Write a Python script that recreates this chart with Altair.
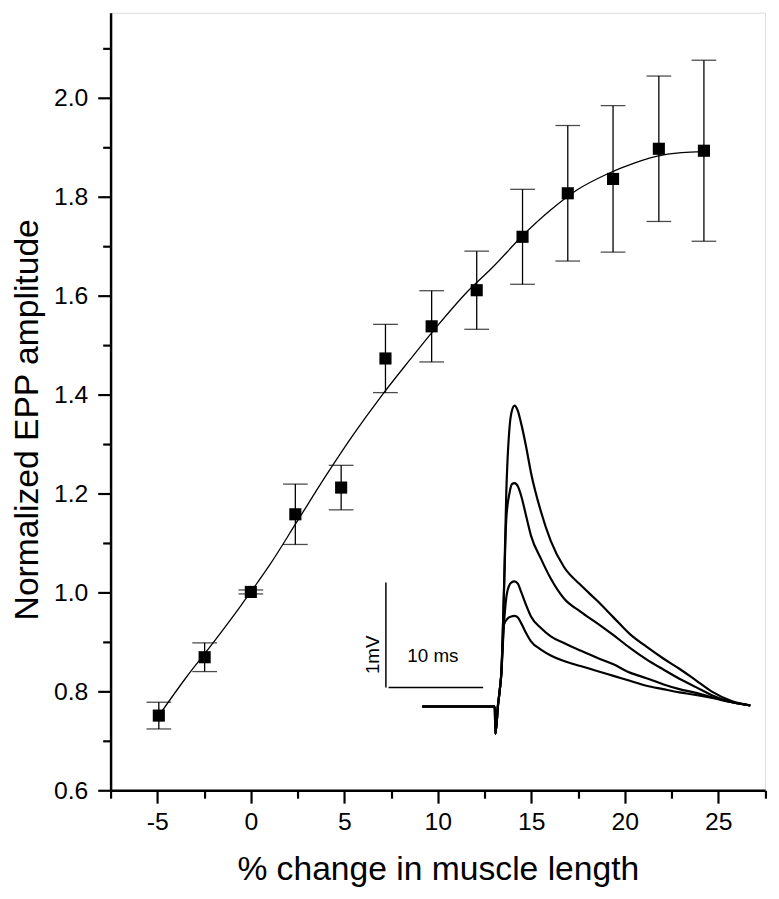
import altair as alt
import pandas as pd

# ---- main data: % change in muscle length vs normalized EPP amplitude ----
x_pct = [-4.92, -2.47, 0.0, 2.38, 4.83, 7.2, 9.67, 12.08, 14.53, 16.95, 19.37, 21.82, 24.23]
amp = [0.751, 0.869, 1.001, 1.158, 1.212, 1.473, 1.538, 1.611, 1.719, 1.807, 1.836, 1.897, 1.893]
err = [0.027, 0.029, 0.004, 0.061, 0.045, 0.069, 0.072, 0.079, 0.096, 0.137, 0.148, 0.147, 0.183]

# fitted curve
fit_x = [-4.9, -3.5, -2.0, -0.5, 1.0, 2.5, 4.0, 5.5, 7.0, 8.5, 10.0, 11.5, 13.0, 14.5,
         16.0, 17.5, 19.0, 20.5, 22.0, 23.5, 24.3]
fit_y = [0.752, 0.826, 0.899, 0.975, 1.055, 1.145, 1.235, 1.32, 1.398, 1.47, 1.54, 1.605,
         1.66, 1.72, 1.772, 1.815, 1.845, 1.868, 1.884, 1.89, 1.891]

# ---- inset: EPP traces (time in ms, voltage in mV) ----
rise_t = [-7.74, -0.07, 0.0, 0.28, 0.45, 0.62]
rise_v = [0.0, 0.0, -0.26, 0.02, 0.15, 0.31]

t1 = [0.90, 1.15, 1.50, 1.74, 2.02, 2.37, 2.72, 3.24, 3.76, 4.81, 5.85, 7.25, 8.99, 10.74,
      12.48, 14.22, 15.97, 17.71, 19.45, 21.20, 22.94, 25.03, 26.95]
v1 = [1.09, 2.04, 2.67, 2.82, 2.87, 2.82, 2.70, 2.48, 2.23, 1.86, 1.58, 1.33, 1.16, 1.01,
      0.85, 0.69, 0.57, 0.46, 0.36, 0.25, 0.14, 0.05, 0.01]

t2 = [0.90, 1.15, 1.50, 1.74, 2.02, 2.37, 2.72, 3.24, 3.76, 4.81, 5.85, 7.25, 8.99, 10.74,
      12.48, 14.22, 15.97, 17.71, 19.45, 21.20, 22.94, 25.03, 26.95]
v2 = [1.09, 1.79, 2.04, 2.12, 2.13, 2.10, 2.01, 1.82, 1.63, 1.41, 1.22, 1.03, 0.905, 0.795,
      0.68, 0.56, 0.45, 0.355, 0.265, 0.185, 0.105, 0.04, 0.01]

t3 = [0.90, 1.25, 1.67, 2.02, 2.37, 2.72, 3.24, 3.76, 4.81, 5.85, 7.25, 8.99, 10.74, 12.48,
      14.22, 15.97, 17.71, 19.45, 21.20, 22.94, 25.03, 26.95]
v3 = [0.78, 1.094, 1.182, 1.194, 1.172, 1.094, 0.968, 0.858, 0.748, 0.669, 0.606, 0.534,
      0.465, 0.402, 0.323, 0.27, 0.213, 0.166, 0.13, 0.087, 0.04, 0.01]

t4 = [0.90, 1.32, 1.67, 2.02, 2.37, 2.72, 3.24, 3.76, 4.81, 5.85, 7.25, 8.99, 10.74, 12.48,
      14.22, 15.97, 17.71, 19.45, 21.20, 22.94, 25.03, 26.95]
v4 = [0.78, 0.842, 0.858, 0.864, 0.848, 0.795, 0.701, 0.622, 0.543, 0.487, 0.433, 0.386,
      0.339, 0.292, 0.245, 0.198, 0.166, 0.135, 0.11, 0.081, 0.04, 0.01]

# scale bars (ms / mV)
bar_v_t = -11.58
bar_v_lo, bar_v_hi = 0.182, 1.182
bar_h_t0, bar_h_t1 = -11.3, -1.3
bar_h_v = 0.182

FONT = "Liberation Sans"
W, H = 661.6, 786

# ---------------- frames ----------------
pts = pd.DataFrame({"x": x_pct, "y": amp, "lo": [a - e for a, e in zip(amp, err)],
                    "hi": [a + e for a, e in zip(amp, err)]})
caps = pd.DataFrame({"x": x_pct * 2,
                     "y": [a - e for a, e in zip(amp, err)] + [a + e for a, e in zip(amp, err)]})
fit = pd.DataFrame({"x": fit_x, "y": fit_y})

rows = []
for name, ts, vs in [("a", t1, v1), ("b", t2, v2), ("c", t3, v3), ("d", t4, v4)]:
    full_t = rise_t + ts
    full_v = rise_v + vs
    for i, (t, v) in enumerate(zip(full_t, full_v)):
        rows.append({"trace": name, "i": i, "t": t, "mV": v})
traces = pd.DataFrame(rows)

xs = alt.Scale(domain=[-7.5, 27.5], nice=False, zero=False)
ys = alt.Scale(domain=[0.6, 2.172], nice=False, zero=False)

x_axis = alt.Axis(
    values=[-7.5 + 2.5 * k for k in range(15)],
    labelExpr="abs(datum.value % 5) < 0.01 ? ('' + datum.value) : ''",
    tickSize={"condition": {"test": "abs(datum.value % 5) < 0.01", "value": 13}, "value": 8},
    labelOverlap=False, labelFlush=False, grid=False,
    domainColor="black", domainWidth=2.5, tickColor="black", tickWidth=2.2,
    labelFont=FONT, labelFontSize=25, labelColor="black", labelPadding=7,
    title="% change in muscle length", titleFont=FONT, titleFontSize=34,
    titleFontWeight="normal", titleColor="black", titleBaseline="alphabetic", titleY=90,
)
y_axis = alt.Axis(
    values=[round(0.6 + 0.1 * k, 1) for k in range(16)],
    labelExpr="round(datum.value * 10) % 2 == 0 ? format(datum.value, '.1f') : ''",
    tickSize={"condition": {"test": "round(datum.value * 10) % 2 == 0", "value": 13}, "value": 8},
    labelOverlap=False, labelFlush=False, grid=False,
    domainColor="black", domainWidth=2.5, tickColor="black", tickWidth=2.2,
    labelFont=FONT, labelFontSize=25, labelColor="black", labelPadding=10,
    title="Normalized EPP amplitude", titleFont=FONT, titleFontSize=34,
    titleFontWeight="normal", titleColor="black", titleBaseline="alphabetic",
    titleX=-74, titleY=411, titleAngle=270,
)


def X(f="x"):
    return alt.X(f"{f}:Q", scale=xs, axis=x_axis)


def Y(f="y"):
    return alt.Y(f"{f}:Q", scale=ys, axis=y_axis)


fit_line = alt.Chart(fit).mark_line(color="black", strokeWidth=1.3, interpolate="monotone").encode(
    x=X(), y=Y())
bars = alt.Chart(pts).mark_rule(color="black", strokeWidth=1.3).encode(
    x=X(), y=Y("lo"), y2="hi:Q")
cap_marks = alt.Chart(caps).mark_tick(color="black", orient="horizontal", size=25,
                                     thickness=1.3).encode(x=X(), y=Y())
squares = alt.Chart(pts).mark_square(color="black", opacity=1, size=150).encode(x=X(), y=Y())

main = alt.layer(fit_line, bars, cap_marks, squares)

# inset scales placing the traces inside the plot area
ts_ = alt.Scale(domain=[-40.69, 28.51], nice=False, zero=False)
vs_ = alt.Scale(domain=[-0.799, 6.616], nice=False, zero=False)

trace_lines = alt.Chart(traces).mark_line(color="black", strokeWidth=2.2,
                                          interpolate="monotone").encode(
    x=alt.X("t:Q", scale=ts_, axis=None), y=alt.Y("mV:Q", scale=vs_, axis=None),
    detail="trace:N", order="i:Q")

sbar = pd.DataFrame({"t": [bar_v_t, bar_h_t0], "t2": [bar_v_t, bar_h_t1],
                     "v": [bar_v_lo, bar_h_v], "v2": [bar_v_hi, bar_h_v]})
scale_bars = alt.Chart(sbar).mark_rule(color="black", strokeWidth=1.5).encode(
    x=alt.X("t:Q", scale=ts_, axis=None), x2="t2:Q",
    y=alt.Y("v:Q", scale=vs_, axis=None), y2="v2:Q")

lbl_ms = alt.Chart(pd.DataFrame({"t": [-9.31], "v": [0.427], "s": ["10 ms"]})).mark_text(
    font=FONT, fontSize=19, align="left", baseline="alphabetic", color="black").encode(
    x=alt.X("t:Q", scale=ts_, axis=None), y=alt.Y("v:Q", scale=vs_, axis=None), text="s:N")
lbl_mv = alt.Chart(pd.DataFrame({"t": [-12.31], "v": [0.493], "s": ["1mV"]})).mark_text(
    font=FONT, fontSize=19, align="center", baseline="alphabetic", angle=270,
    color="black").encode(
    x=alt.X("t:Q", scale=ts_, axis=None), y=alt.Y("v:Q", scale=vs_, axis=None), text="s:N")

inset = alt.layer(trace_lines, scale_bars, lbl_ms, lbl_mv)

chart = alt.layer(main, inset).resolve_scale(x="independent", y="independent").properties(
    width=W, height=H,
    autosize=alt.AutoSizeParams(type="none"),
    padding={"left": 103.7, "top": 0, "right": 6, "bottom": 95},
).configure_view(stroke=None).configure(background="white")

chart.save("out.html", embed_options={"renderer": "svg", "actions": False})
